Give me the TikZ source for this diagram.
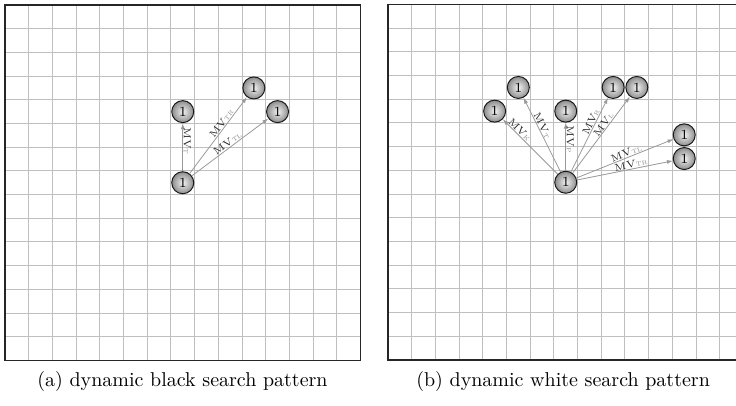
\documentclass[tikz,border=0pt]{standalone}
\usetikzlibrary{arrows.meta}
\begin{document}
\begin{tikzpicture}[x=11.85pt,y=-11.85pt,
  gridline/.style={draw=black!25,line width=0.5pt},
  frameline/.style={draw=black!85,line width=0.7pt},
  ballnode/.style={circle,draw=black!90,line width=0.5pt,shading=radial,inner color=black!5,outer color=black!45,
    minimum size=11pt,inner sep=0pt,font=\fontsize{7}{7}\selectfont},
  mvarrow/.style={draw=black!40,line width=0.4pt,{Latex[length=3pt,width=2pt]}-},
  mvlab/.style={sloped,above,inner sep=0.3pt,font=\fontsize{5}{5}\selectfont,text=black!85},
  captext/.style={font=\fontsize{10}{12}\selectfont}]
\newcommand{\mvl}[1]{MV\textcolor{black!45}{\fontsize{3}{3}\selectfont #1}}
\useasboundingbox (0,0) rectangle (31.055,17.131);
\clip (0,0) rectangle (31.055,17.131);
% left panel
\begin{scope}[shift={(0.211,0.211)}]
  \foreach \k in {1,...,14} {
    \draw[gridline] (\k,0) -- (\k,15);
    \draw[gridline] (0,\k) -- (15,\k);
  }
  \draw[frameline] (0,0) rectangle (15,15);
  \node[ballnode] (lc) at (7.5,7.5) {1};
  \node[ballnode] (lt) at (7.5,4.5) {1};
  \node[ballnode] (ltr) at (10.5,3.5) {1};
  \node[ballnode] (ltl) at (11.5,4.5) {1};
  \draw[mvarrow] (lt) -- node[mvlab,pos=0.37] {\mvl{T}} (lc);
  \draw[mvarrow] (ltr) -- node[mvlab,pos=0.38] {\mvl{TR}} (lc);
  \draw[mvarrow] (ltl) -- node[mvlab,pos=0.5] {\mvl{TL}} (lc);
\end{scope}
% right panel
\begin{scope}[shift={(16.371,0.19)}]
  \foreach \k in {1,...,14} {
    \draw[gridline] (\k,0) -- (\k,15);
    \draw[gridline] (0,\k) -- (15,\k);
  }
  \draw[frameline] (0,0) rectangle (15,15);
  \node[ballnode] (rc) at (7.5,7.5) {1};
  \node[ballnode] (rk) at (4.5,4.5) {1};
  \node[ballnode] (rt) at (5.5,3.5) {1};
  \node[ballnode] (rp) at (7.5,4.5) {1};
  \node[ballnode] (rr) at (9.5,3.5) {1};
  \node[ballnode] (rl) at (10.5,3.5) {1};
  \node[ballnode] (rtl) at (12.5,5.5) {1};
  \node[ballnode] (rtr) at (12.5,6.5) {1};
  \draw[mvarrow] (rk) -- node[mvlab,pos=0.25] {\mvl{K}} (rc);
  \draw[mvarrow] (rt) -- node[mvlab,pos=0.4] {\mvl{T}} (rc);
  \draw[mvarrow] (rp) -- node[mvlab,pos=0.35] {\mvl{P}} (rc);
  \draw[mvarrow] (rr) -- node[mvlab,pos=0.35] {\mvl{R}} (rc);
  \draw[mvarrow] (rl) -- node[mvlab,pos=0.4] {\mvl{L}} (rc);
  \draw[mvarrow] (rtl) -- node[mvlab,pos=0.47] {\mvl{TL}} (rc);
  \draw[mvarrow] (rtr) -- node[mvlab,pos=0.43] {\mvl{TR}} (rc);
\end{scope}
\node[captext] (capa) at (7.70,16.08) {(a) dynamic black search pattern};
\node[captext] (capb) at (23.76,16.08) {(b) dynamic white search pattern};
\end{tikzpicture}
\end{document}
